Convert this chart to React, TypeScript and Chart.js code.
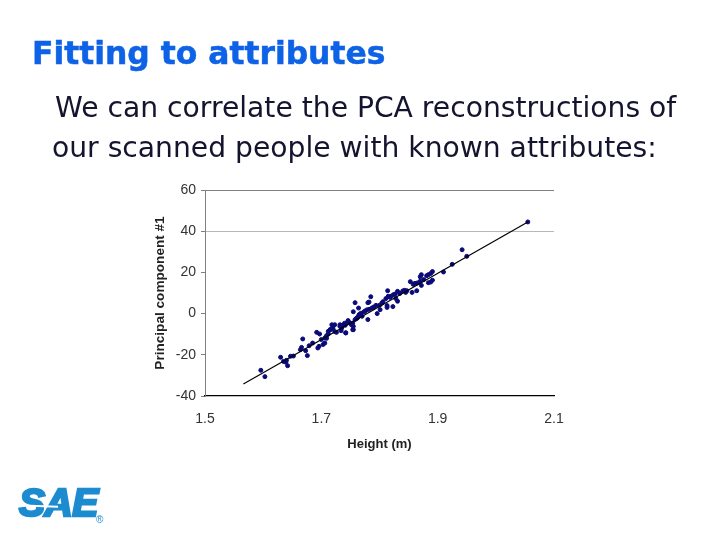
import { Chart, registerables } from "chart.js";
import React, { useEffect, useRef } from "react";

Chart.register(...registerables);

const heights = [
  1.596, 1.603, 1.63, 1.635, 1.639, 1.64, 1.642, 1.647, 1.652, 1.668, 1.666, 1.664, 1.673, 1.676, 1.679, 1.685,
  1.692, 1.697, 1.694, 1.696, 1.703, 1.706, 1.7, 1.718, 1.723, 1.719, 1.712, 1.715, 1.706, 1.709, 1.712, 1.726,
  1.732, 1.738, 1.746, 1.752, 1.755, 1.742, 1.735, 1.741, 1.761, 1.764, 1.758, 1.755, 1.764, 1.77, 1.765, 1.762,
  1.758, 1.746, 1.754, 1.749, 1.737, 1.732, 1.755, 1.754, 1.742, 1.734, 1.773, 1.778, 1.782, 1.787, 1.78, 1.782,
  1.78, 1.785, 1.796, 1.801, 1.794, 1.8, 1.804, 1.813, 1.813, 1.823, 1.831, 1.828, 1.811, 1.818, 1.815, 1.814,
  1.824, 1.827, 1.831, 1.847, 1.843, 1.845, 1.856, 1.864, 1.872, 1.87, 1.865, 1.861, 1.853, 1.884, 1.888, 1.891,
  1.87, 1.872, 1.881, 1.884, 1.888, 1.891, 1.91, 1.925, 1.95, 1.942, 2.055,
  1.709, 1.715, 1.72, 1.74, 1.746, 1.752, 1.761, 1.765, 1.723, 1.79, 1.806, 1.82, 1.835, 1.84, 1.876, 1.858, 1.775, 1.768,
];
const components = [
  -27.5, -30.6, -21.2, -23.2, -23.6, -22.7, -25.3, -20.7, -20.6, -12.3, -16.4, -17.5, -18, -20.4, -15.6, -14.3,
  -9.1, -9.9, -16.7, -15.9, -15, -14.3, -12.6, -5.4, -5.4, -7, -8.6, -7.8, -11.8, -10.7, -9.9, -9.1,
  -6.2, -5.4, -3.7, -5, -7.8, -9.4, -7, -5.7, -2.1, -1.3, 5.3, 0.9, 2.7, -1.3, -0.5, -2.1,
  -2.9, -3.4, -4.6, -4.6, -5.7, -5.4, -6.2, -7.8, -9.3, -8.3, 0.8, 1.8, 2.1, 2.7, -2.9, 5.6,
  5.3, 8.2, 0, 1.9, 4, 4, 5.1, 3.9, 3, 3.4, 6, 7.3, 7.3, 7.9, 8.4, 11.1,
  9.2, 9.5, 10.8, 11.1, 11.3, 10.3, 10.3, 11.1, 13.7, 15.7, 14.9, 14.7, 15.5, 15, 15.3, 16.2,
  17.9, 18.9, 18.4, 18.9, 19.5, 20.4, 20.2, 23.9, 27.8, 31, 44.5,
  -12, -7.9, -7.1, -4.7, -3.9, -5.5, -2.3, -0.6, -8.7, 3.2, 5.8, 8.5, 9.8, 11, 16.5, 14.2, 1.2, 0.2,
];
const trendHeights = [1.566, 2.055];
const trendValues = [-34.2, 44.5];
const xTicks = [1.5, 1.7, 1.9, 2.1];

const text = (left: number, top: number, extra: React.CSSProperties = {}): React.CSSProperties => ({
  position: "absolute",
  left,
  top,
  whiteSpace: "nowrap",
  fontFamily: "'DejaVu Sans'",
  ...extra,
});

const App = () => {
  const canvasRef = useRef<HTMLCanvasElement>(null);

  useEffect(() => {
    if (!canvasRef.current) throw new Error("missing canvas");
    document.body.style.margin = "0";
    const chart = new Chart(canvasRef.current, {
      type: "scatter",
      data: {
        datasets: [
          {
            label: "People",
            data: heights.map((h, i) => ({ x: h, y: components[i] })),
            backgroundColor: "#0a0a78",
            borderColor: "#0a0a78",
            pointRadius: 2,
            order: 2,
          },
          {
            label: "Fit",
            data: trendHeights.map((h, i) => ({ x: h, y: trendValues[i] })),
            showLine: true,
            borderColor: "#000000",
            borderWidth: 1.2,
            pointRadius: 0,
            order: 1,
          },
        ],
      },
      options: {
        animation: false,
        responsive: false,
        layout: { padding: { left: 150, right: 166, top: 190, bottom: 88 } },
        plugins: { legend: { display: false }, tooltip: { enabled: false } },
        scales: {
          x: {
            type: "linear",
            min: 1.5,
            max: 2.1,
            afterBuildTicks: (scale) => {
              scale.ticks = xTicks.map((value) => ({ value }));
            },
            afterFit: (scale) => {
              scale.height = 56;
            },
            grid: { display: false, drawTicks: false },
            border: { color: "#000000", width: 1.2 },
            ticks: {
              autoSkip: false,
              maxRotation: 0,
              padding: 15,
              color: "#333333",
              font: { family: "'Liberation Sans'", size: 14 },
              callback: (value) => Number(value).toFixed(1),
            },
            title: {
              display: true,
              text: "Height (m)",
              color: "#222222",
              padding: { top: 7, bottom: 0 },
              font: { family: "'Liberation Sans'", size: 13, weight: "bold" },
            },
          },
          y: {
            min: -40,
            max: 60,
            afterFit: (scale) => {
              scale.width = 55;
            },
            grid: {
              drawTicks: true,
              tickLength: 4,
              tickColor: "#808080",
              color: (ctx) => {
                if (ctx.tick.value === 60) return "#808080";
                if (ctx.tick.value === 40) return "#b8b8b8";
                return "rgba(0,0,0,0)";
              },
            },
            border: { color: "#808080", width: 1 },
            ticks: {
              stepSize: 20,
              padding: 5,
              color: "#333333",
              font: { family: "'Liberation Sans'", size: 14 },
            },
            title: {
              display: true,
              text: "Principal component #1",
              color: "#222222",
              padding: { top: 2, bottom: 2 },
              font: { family: "'Liberation Sans'", size: 13.6, weight: "bold" },
            },
          },
        },
      },
    });
    return () => chart.destroy();
  }, []);

  return (
    <div style={{ position: "relative", width: 720, height: 540, overflow: "hidden", background: "#fff" }}>
      <canvas ref={canvasRef} width={720} height={540} style={{ position: "absolute", left: 0, top: 0 }} />
      <div style={text(32, 35, { fontSize: 31.4, fontWeight: "bold", color: "#0d62e6", WebkitTextStroke: "0.5px #0d62e6" })}>
        Fitting to attributes
      </div>
      <div style={text(55, 91, { fontSize: 28.2, color: "#14142e" })}>We can correlate the PCA reconstructions of</div>
      <div style={text(52, 131, { fontSize: 28.2, color: "#14142e" })}>our scanned people with known attributes:</div>
      <div
        style={text(19, 481, {
          fontFamily: "'Liberation Sans'",
          fontSize: 39,
          fontWeight: "bold",
          fontStyle: "italic",
          color: "#1c8bd0",
          letterSpacing: -0.5,
          WebkitTextStroke: "2.5px #1c8bd0",
        })}
      >
        SAE
      </div>
      <div style={{ position: "absolute", left: 16, top: 505, width: 42, height: 2, background: "#ffffff", transform: "rotate(2deg)" }} />
      <div style={text(96, 514, { fontFamily: "'Liberation Sans'", fontSize: 10, color: "#1c8bd0" })}>®</div>
    </div>
  );
};

export default App;
